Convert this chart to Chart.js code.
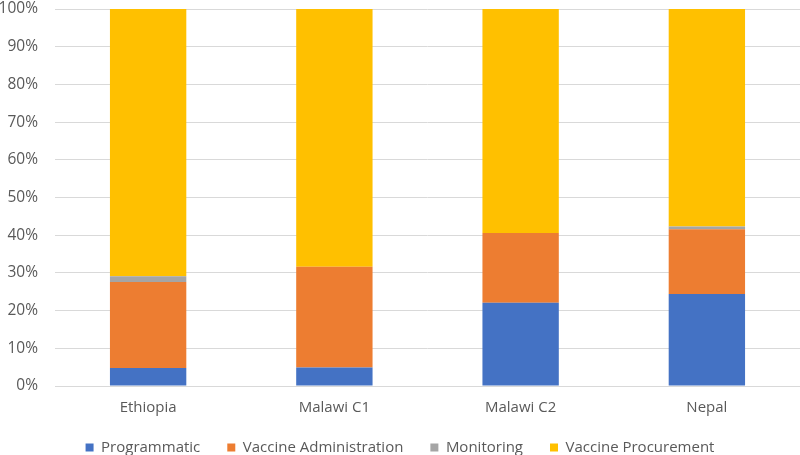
<!DOCTYPE html>
<html>
<head>
<meta charset="utf-8">
<script src="https://cdn.jsdelivr.net/npm/chart.js@4/dist/chart.umd.min.js"></script>
<style>
  html, body { margin: 0; padding: 0; background: #fff; }
  #wrap { width: 800px; height: 455px; }
</style>
</head>
<body>
<div id="wrap"><canvas id="costChart"></canvas></div>
<script>
// categories and shares (%)
const sites = ["Ethiopia", "Malawi C1", "Malawi C2", "Nepal"];
const programmatic = [4.8, 4.9, 22.1, 24.4];
const vaccineAdmin = [22.8, 26.7, 18.5, 17.2];
const monitoring = [1.5, 0, 0, 0.7];
const vaccineProcurement = [70.9, 68.4, 59.4, 57.7];
const yTicks = [0, 10, 20, 30, 40, 50, 60, 70, 80, 90, 100];

const fontFamily = "'Open Sans', sans-serif";
const textGrey = "#595959";

// the x axis box is kept short so the legend sits close; widen its clip area again
const labelRoom = {
  id: "labelRoom",
  afterLayout(chart) {
    chart.scales.x.bottom += 20;
  },
};

const ctx = document.getElementById("costChart").getContext("2d");
const costChart = new Chart(ctx, {
  type: "bar",
  data: {
    labels: sites,
    datasets: [
      { label: "Programmatic", data: programmatic, backgroundColor: "#4472C4" },
      { label: "Vaccine Administration", data: vaccineAdmin, backgroundColor: "#ED7D31" },
      { label: "Monitoring", data: monitoring, backgroundColor: "#A5A5A5" },
      { label: "Vaccine Procurement", data: vaccineProcurement, backgroundColor: "#FFC000" },
    ],
  },
  plugins: [labelRoom],
  options: {
    responsive: true,
    maintainAspectRatio: false,
    animation: false,
    categoryPercentage: 0.82,
    barPercentage: 0.5,
    layout: { padding: { top: 9, right: 0, left: 0, bottom: -10 } },
    plugins: {
      tooltip: { enabled: false },
      legend: {
        position: "bottom",
        labels: {
          boxWidth: 8,
          boxHeight: 8,
          padding: 27,
          color: textGrey,
          font: { family: fontFamily, size: 15 },
        },
      },
    },
    scales: {
      x: {
        stacked: true,
        grid: { display: false, drawTicks: false },
        border: { color: "#d9d9d9" },
        afterFit: (scale) => {
          scale.height = 27;
        },
        ticks: {
          padding: 13,
          color: textGrey,
          font: { family: fontFamily, size: 15 },
        },
      },
      y: {
        stacked: true,
        min: 0,
        max: 100,
        afterBuildTicks: (scale) => {
          scale.ticks = yTicks.map((v) => ({ value: v }));
        },
        afterFit: (scale) => {
          scale.width = 55;
          scale.paddingTop = 0;
          scale.paddingBottom = 0;
        },
        grid: { color: "#d9d9d9", drawTicks: false },
        border: { display: false },
        ticks: {
          padding: 17,
          color: textGrey,
          font: { family: fontFamily, size: 15.5 },
          callback: (v) => v + "%",
        },
      },
    },
  },
});
</script>
</body>
</html>
